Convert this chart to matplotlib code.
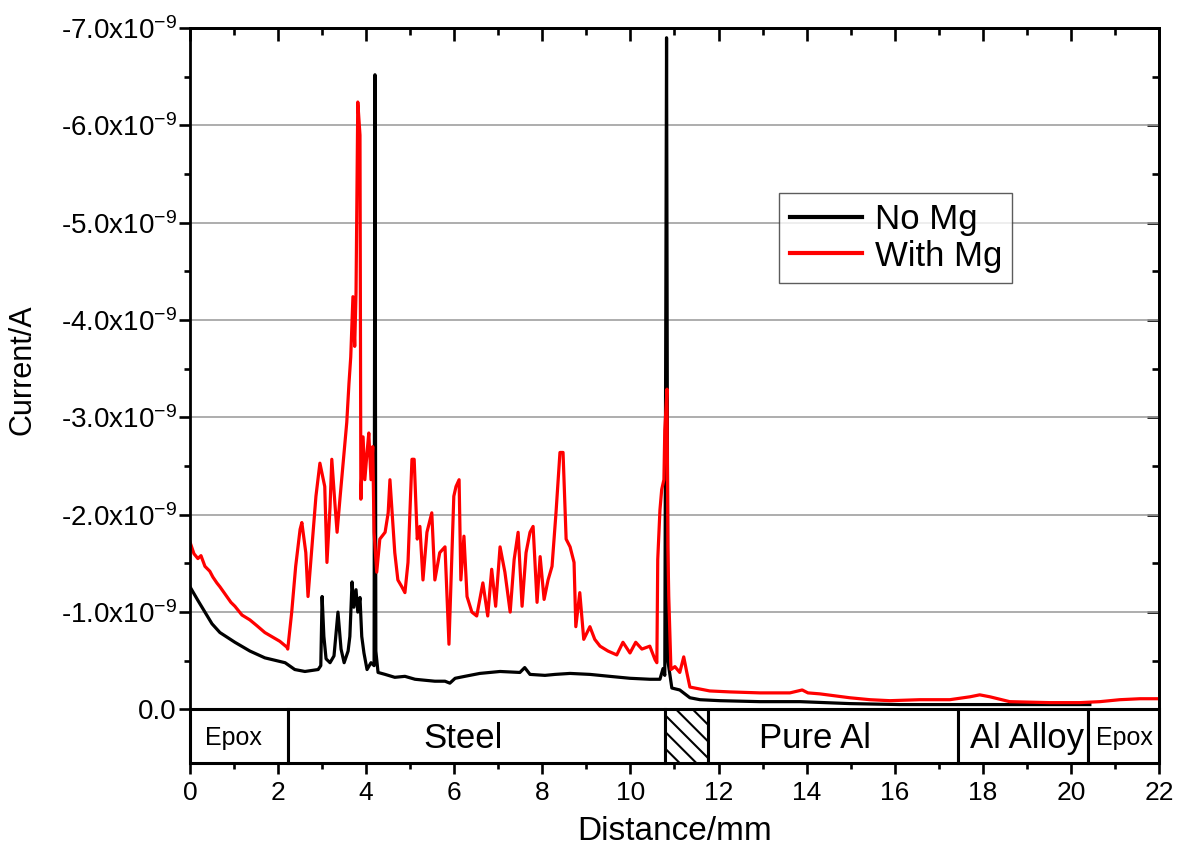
import matplotlib
matplotlib.use("Agg")
import matplotlib.pyplot as plt
from matplotlib.patches import Rectangle
from matplotlib.ticker import FixedLocator, FuncFormatter, MultipleLocator

plt.rcParams['font.family'] = ['Liberation Sans', 'DejaVu Sans']
plt.rcParams['mathtext.fontset'] = 'custom'
plt.rcParams['mathtext.rm'] = 'Liberation Sans'
plt.rcParams['mathtext.it'] = 'Liberation Sans'
plt.rcParams['hatch.linewidth'] = 1.5

# current in units of 1e-9 A (negative = cathodic)
dist_no_mg = [0.00, 0.18, 0.34, 0.50, 0.68, 1.02, 1.36, 1.70, 2.16, 2.38, 2.61, 2.91, 2.97, 3.00,
              3.04, 3.09, 3.18, 3.27, 3.36, 3.43, 3.50, 3.59, 3.63, 3.68, 3.72, 3.77, 3.81, 3.86,
              3.90, 3.95, 4.02, 4.11, 4.18, 4.20, 4.22, 4.27, 4.43, 4.65, 4.88, 5.11, 5.33, 5.56,
              5.79, 5.90, 6.02, 6.24, 6.58, 7.04, 7.49, 7.60, 7.72, 8.06, 8.29, 8.63, 9.08, 9.53,
              9.99, 10.44, 10.67, 10.74, 10.78, 10.82, 10.85, 10.94, 11.12, 11.35, 11.58, 12.03,
              12.94, 13.85, 14.98, 16.12, 17.25, 18.39, 19.52, 20.43]
cur_no_mg = [-1.26, -1.12, -1.00, -0.88, -0.79, -0.69, -0.60, -0.53, -0.48, -0.41, -0.39, -0.41, -0.45, -1.16,
             -0.75, -0.52, -0.48, -0.55, -1.00, -0.62, -0.48, -0.60, -0.75, -1.31, -1.05, -1.23, -1.00, -1.15,
             -0.75, -0.58, -0.41, -0.48, -0.45, -6.52, -0.60, -0.38, -0.36, -0.33, -0.34, -0.31, -0.30, -0.29,
             -0.29, -0.27, -0.32, -0.34, -0.37, -0.39, -0.38, -0.43, -0.36, -0.35, -0.36, -0.37, -0.36, -0.34,
             -0.32, -0.31, -0.31, -0.42, -0.35, -6.90, -0.50, -0.22, -0.20, -0.12, -0.10, -0.09,
             -0.08, -0.08, -0.06, -0.05, -0.05, -0.05, -0.05, -0.05]

dist_mg = [0.00, 0.09, 0.18, 0.25, 0.34, 0.45, 0.52, 0.61, 0.68, 0.82, 0.93, 1.02, 1.18, 1.36, 1.52,
           1.70, 1.89, 2.04, 2.20, 2.22, 2.31, 2.40, 2.50, 2.54, 2.63, 2.68, 2.77, 2.86, 2.95, 3.06,
           3.11, 3.18, 3.22, 3.29, 3.34, 3.41, 3.50, 3.56, 3.61, 3.65, 3.70, 3.74, 3.77, 3.81, 3.86,
           3.88, 3.93, 3.97, 4.02, 4.06, 4.11, 4.15, 4.18, 4.24, 4.31, 4.43, 4.50, 4.54, 4.59, 4.65,
           4.72, 4.81, 4.88, 4.95, 5.04, 5.09, 5.16, 5.22, 5.29, 5.38, 5.49, 5.56, 5.67, 5.79, 5.88,
           5.99, 6.04, 6.11, 6.15, 6.22, 6.29, 6.40, 6.51, 6.65, 6.76, 6.85, 6.94, 7.04, 7.15, 7.27,
           7.36, 7.45, 7.54, 7.63, 7.72, 7.79, 7.88, 7.95, 8.04, 8.13, 8.22, 8.31, 8.40, 8.47, 8.54,
           8.63, 8.72, 8.76, 8.85, 8.94, 9.08, 9.19, 9.31, 9.49, 9.69, 9.83, 9.99, 10.12, 10.26, 10.44,
           10.56, 10.60, 10.62, 10.67, 10.71, 10.76, 10.78, 10.83, 10.85, 10.87, 10.92, 11.01, 11.12,
           11.21, 11.28, 11.35, 11.58, 11.80, 12.26, 12.94, 13.62, 13.90, 14.03, 14.30, 14.98, 15.44,
           15.89, 16.57, 17.25, 17.71, 17.93, 18.16, 18.61, 19.52, 20.20, 20.66, 21.11, 21.57, 22.00]
cur_mg = [-1.72, -1.60, -1.55, -1.58, -1.47, -1.42, -1.36, -1.30, -1.26, -1.17, -1.10, -1.06, -0.97, -0.92, -0.86,
          -0.79, -0.74, -0.70, -0.64, -0.62, -1.00, -1.47, -1.85, -1.92, -1.61, -1.16, -1.67, -2.19, -2.53, -2.29,
          -1.51, -2.08, -2.57, -2.12, -1.82, -2.19, -2.64, -2.95, -3.35, -3.62, -4.24, -3.73, -4.28, -6.24, -5.90,
          -2.16, -2.80, -2.36, -2.64, -2.84, -2.36, -2.70, -1.82, -1.41, -1.75, -1.82, -2.02, -2.36, -2.02, -1.61,
          -1.33, -1.26, -1.20, -1.51, -2.57, -2.57, -1.75, -1.88, -1.33, -1.82, -2.02, -1.33, -1.61, -1.67, -0.67,
          -2.19, -2.29, -2.36, -1.33, -1.78, -1.16, -1.00, -0.96, -1.30, -0.96, -1.44, -1.06, -1.67, -1.41, -1.00,
          -1.54, -1.82, -1.06, -1.61, -1.82, -1.88, -1.10, -1.57, -1.13, -1.33, -1.47, -2.02, -2.64, -2.64, -1.75,
          -1.67, -1.51, -0.85, -1.20, -0.72, -0.85, -0.72, -0.65, -0.60, -0.56, -0.69, -0.58, -0.69, -0.62, -0.65,
          -0.51, -0.48, -1.54, -2.05, -2.26, -2.36, -2.87, -3.29, -1.67, -1.16, -0.41, -0.44, -0.38,
          -0.54, -0.38, -0.23, -0.21, -0.19, -0.18, -0.17, -0.17, -0.20, -0.17, -0.16, -0.12, -0.10,
          -0.09, -0.10, -0.10, -0.13, -0.15, -0.13, -0.08, -0.07, -0.07, -0.08, -0.10, -0.11, -0.11]

# sample regions along the scan line
region_edges = [0.0, 2.22, 10.78, 11.76, 17.43, 20.39, 22.0]
region_labels = ['Epox', 'Steel', '', 'Pure Al', 'Al Alloy', 'Epox']
region_label_x = [0.98, 6.2, None, 14.2, 19.0, 21.22]
region_font = [18, 25, None, 25, 25, 18]
band_depth = 0.55

y_major = [0, -1, -2, -3, -4, -5, -6, -7]
y_minor = [-0.5, -1.5, -2.5, -3.5, -4.5, -5.5, -6.5]


def sci_label(v, pos):
    if v == 0:
        return '0.0'
    return '%.1fx10$^{-9}$' % v


fig = plt.figure(figsize=(11.77, 8.47), dpi=100)
ax = fig.add_axes([0.1614, 0.0992, 0.8233, 0.8677])

ax.plot(dist_no_mg, cur_no_mg, color='black', lw=2.3, label='No Mg', zorder=3)
ax.plot(dist_mg, cur_mg, color='#ff0000', lw=2.3, label='With Mg', zorder=4)

for i in range(len(region_labels)):
    x0, x1 = region_edges[i], region_edges[i + 1]
    hatch = '\\\\' if region_labels[i] == '' else None
    ax.add_patch(Rectangle((x0, 0), x1 - x0, band_depth, facecolor='white',
                           edgecolor='black', lw=2.2, hatch=hatch, zorder=5, clip_on=False))
    if region_labels[i]:
        ax.text(region_label_x[i], band_depth / 2 + 0.02, region_labels[i], ha='center', va='center',
                fontsize=region_font[i], zorder=6)

ax.set_xlim(0, 22)
ax.set_ylim(band_depth, -7.0)
ax.xaxis.set_major_locator(MultipleLocator(2))
ax.xaxis.set_minor_locator(MultipleLocator(1))
ax.yaxis.set_major_locator(FixedLocator(y_major))
ax.yaxis.set_minor_locator(FixedLocator(y_minor))
ax.yaxis.set_major_formatter(FuncFormatter(sci_label))

ax.yaxis.grid(True, color='#a0a0a0', lw=1.2)
ax.set_axisbelow(True)

for s in ax.spines.values():
    s.set_linewidth(2.0)
    s.set_zorder(7)

ax.tick_params(axis='both', which='major', direction='out', length=8, width=1.9, labelsize=20, pad=1.5)
ax.tick_params(axis='both', which='minor', direction='out', length=4.5, width=1.9)
ax.tick_params(axis='x', which='major', pad=5, labelsize=19)

top = ax.secondary_xaxis('top')
top.xaxis.set_major_locator(MultipleLocator(2))
top.xaxis.set_minor_locator(MultipleLocator(1))
top.tick_params(which='major', direction='in', length=9, width=1.9, labeltop=False)
top.tick_params(which='minor', direction='in', length=5, width=1.9)
top.spines['top'].set_linewidth(2.0)

right = ax.secondary_yaxis('right')
right.yaxis.set_major_locator(FixedLocator(y_major))
right.yaxis.set_minor_locator(FixedLocator(y_minor))
right.tick_params(which='major', direction='in', length=9, width=1.9, labelright=False)
right.tick_params(which='minor', direction='in', length=5, width=1.9)
right.spines['right'].set_linewidth(2.0)

ax.set_xlabel('Distance/mm', fontsize=24)
ax.xaxis.set_label_coords(0.5, -0.072)
ax.set_ylabel('Current/A', fontsize=22)
ax.yaxis.set_label_coords(-0.157, 0.535)

leg = ax.legend(loc='upper left', bbox_to_anchor=(0.608, 0.776), fontsize=25, frameon=True,
                fancybox=False, edgecolor='#333333', handlelength=2.1, borderpad=0.3,
                labelspacing=0.1, handletextpad=0.35, borderaxespad=0)
leg.get_frame().set_linewidth(1.0)
for line in leg.get_lines():
    line.set_linewidth(3.0)

fig.savefig('out.png', dpi=100)
